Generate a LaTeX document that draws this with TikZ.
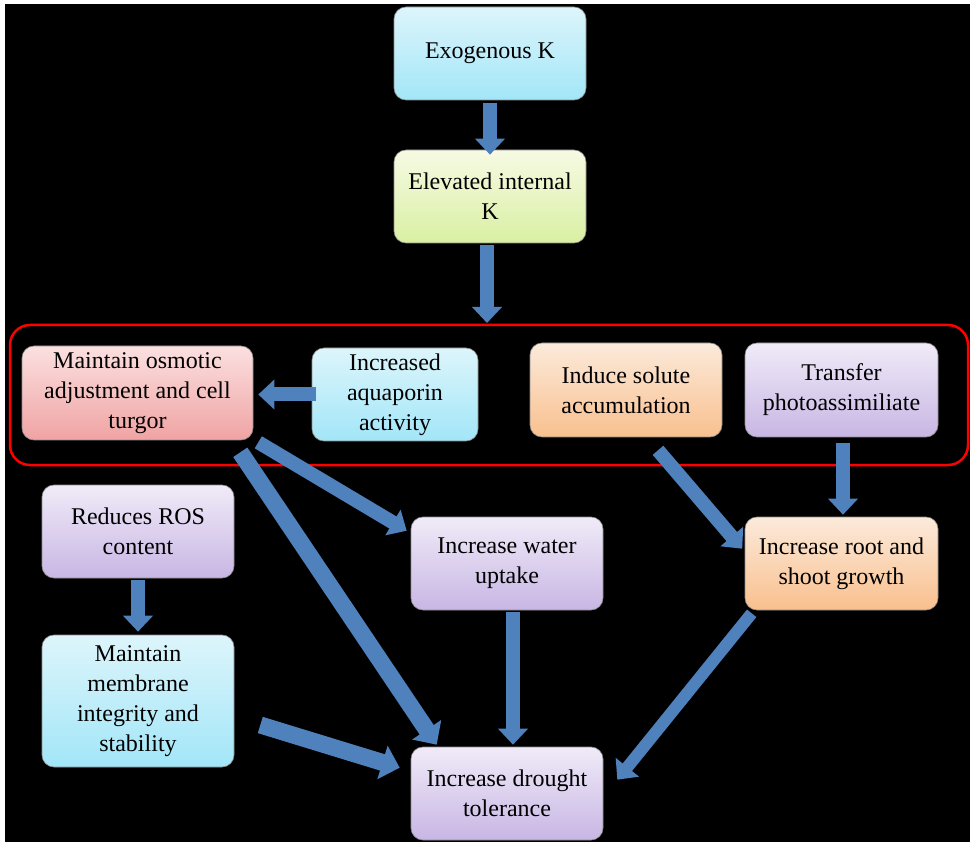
\documentclass[tikz,border=0pt]{standalone}
\usepackage{fontspec}
\setmainfont{Liberation Serif}
\usetikzlibrary{arrows.meta,calc}

\definecolor{arrowblue}{HTML}{4F81BD}
\definecolor{cyantop}{HTML}{DDF5FB}
\definecolor{cyanbot}{HTML}{A2E6F8}
\definecolor{greentop}{HTML}{F6FAE4}
\definecolor{greenbot}{HTML}{D9F0A2}
\definecolor{pinktop}{HTML}{FBE0E0}
\definecolor{pinkbot}{HTML}{F0A3A3}
\definecolor{orangetop}{HTML}{FBEADB}
\definecolor{orangebot}{HTML}{F9C08E}
\definecolor{lilactop}{HTML}{F0EBF8}
\definecolor{lilacbot}{HTML}{C8B6E4}

\begin{document}
\begin{tikzpicture}[x=1pt, y=-1pt,
  box/.style={rounded corners=12pt, draw=black!45, line width=0.6pt, align=center,
    inner sep=0pt, minimum width=192pt, minimum height=93pt,
    font=\fontsize{24}{30}\selectfont},
  cyanbox/.style={box, top color=cyantop, bottom color=cyanbot},
  greenbox/.style={box, top color=greentop, bottom color=greenbot},
  pinkbox/.style={box, top color=pinktop, bottom color=pinkbot},
  orangebox/.style={box, top color=orangetop, bottom color=orangebot},
  lilacbox/.style={box, top color=lilactop, bottom color=lilacbot},
  blockarrow/.style={draw=arrowblue, line width=14pt, -{Triangle[length=16pt, width=29pt]}},
  widearrow/.style={draw=arrowblue, line width=17pt, -{Triangle[length=18pt, width=34pt]}}
  ]

  % Background of the scheme
  \fill[white] (0,0) rectangle (970,842);
  \fill[black] (5,4) rectangle (970,842);
  \useasboundingbox (0,0) rectangle (970,842);

  %%%%%%%%%%%%%%%%%%%%%%%%%%%%%%%%% Boxes %%%%%%%%%%%%%%%%%%%%%%%%%%%%%%%%%%%%
  \node[cyanbox] (exo) at (490,53.5) {Exogenous K};
  \node[greenbox] (elev) at (490,196.5) {Elevated internal\\K};

  % Row inside the red frame
  \draw[red, line width=2.5pt, rounded corners=20pt] (10,325) rectangle (968,465);
  \coordinate (frametop) at (487,323);

  \node[pinkbox, minimum width=231pt, minimum height=94pt] (osmo) at (137.5,393)
    {Maintain osmotic\\adjustment and cell\\turgor};
  \node[cyanbox, minimum width=166pt] (aqua) at (395,394.5) {Increased\\aquaporin\\activity};
  \node[orangebox, minimum height=94pt] (solute) at (626,390) {Induce solute\\accumulation};
  \node[lilacbox, minimum width=193pt, minimum height=94pt] (photo) at (841.5,390)
    {Transfer\\photoassimiliate};

  % Lower part
  \node[lilacbox] (ros) at (138,531.5) {Reduces ROS\\content};
  \node[cyanbox, minimum height=132pt] (memb) at (138,701)
    {Maintain\\membrane\\integrity and\\stability};
  \node[lilacbox] (water) at (507,563.5) {Increase water\\uptake};
  \node[orangebox, minimum width=193pt] (root) at (841.5,563.5) {Increase root and\\shoot growth};
  \node[lilacbox] (drought) at (507,793.5) {Increase drought\\tolerance};

  %%%%%%%%%%%%%%%%%%%%%%%%%%%%%%%%% Arrow ends %%%%%%%%%%%%%%%%%%%%%%%%%%%%%%%
  \coordinate (o2wA) at ($(osmo.south east)+(5,2)$);
  \coordinate (o2wB) at ($(water.north west)+(-4,14)$);
  \coordinate (o2dA) at ($(osmo.south east)+(-13,12)$);
  \coordinate (o2dB) at ($(drought.north west)+(26,-2)$);
  \coordinate (m2dA) at ($(memb.east)+(26,24)$);
  \coordinate (m2dB) at ($(drought.north west)+(-11,21)$);
  \coordinate (s2rA) at ($(solute.south)+(32,13)$);
  \coordinate (s2rB) at ($(root.north west)+(-2.5,32)$);
  \coordinate (r2dA) at ($(root.south west)+(7,3)$);
  \coordinate (r2dB) at ($(drought.north east)+(14,33)$);

  %%%%%%%%%%%%%%%%%%%%%%%%%%%%%%%%% Arrows %%%%%%%%%%%%%%%%%%%%%%%%%%%%%%%%%%%
  \draw[blockarrow, shorten <=3pt, shorten >=-5pt] (exo) -- (elev);
  \draw[blockarrow, shorten <=2pt] ([xshift=-3pt]elev.south) -- (frametop);
  \draw[blockarrow, shorten <=-4pt, shorten >=5pt] (aqua.west) -- (aqua.west -| osmo.east);
  \draw[blockarrow, shorten <=6pt, shorten >=2pt] ([xshift=1.5pt]photo.south) -- ([xshift=1.5pt]root.north);
  \draw[blockarrow, shorten <=2pt, shorten >=3pt] (ros) -- (memb);
  \draw[blockarrow, shorten <=2pt, shorten >=2pt] ([xshift=6pt]water.south) -- ([xshift=6pt]drought.north);

  \draw[blockarrow] (o2wA) -- (o2wB);
  \draw[widearrow] (o2dA) -- (o2dB);
  \draw[widearrow] (m2dA) -- (m2dB);
  \draw[blockarrow] (s2rA) -- (s2rB);
  \draw[blockarrow, line width=12pt] (r2dA) -- (r2dB);

\end{tikzpicture}
\end{document}
